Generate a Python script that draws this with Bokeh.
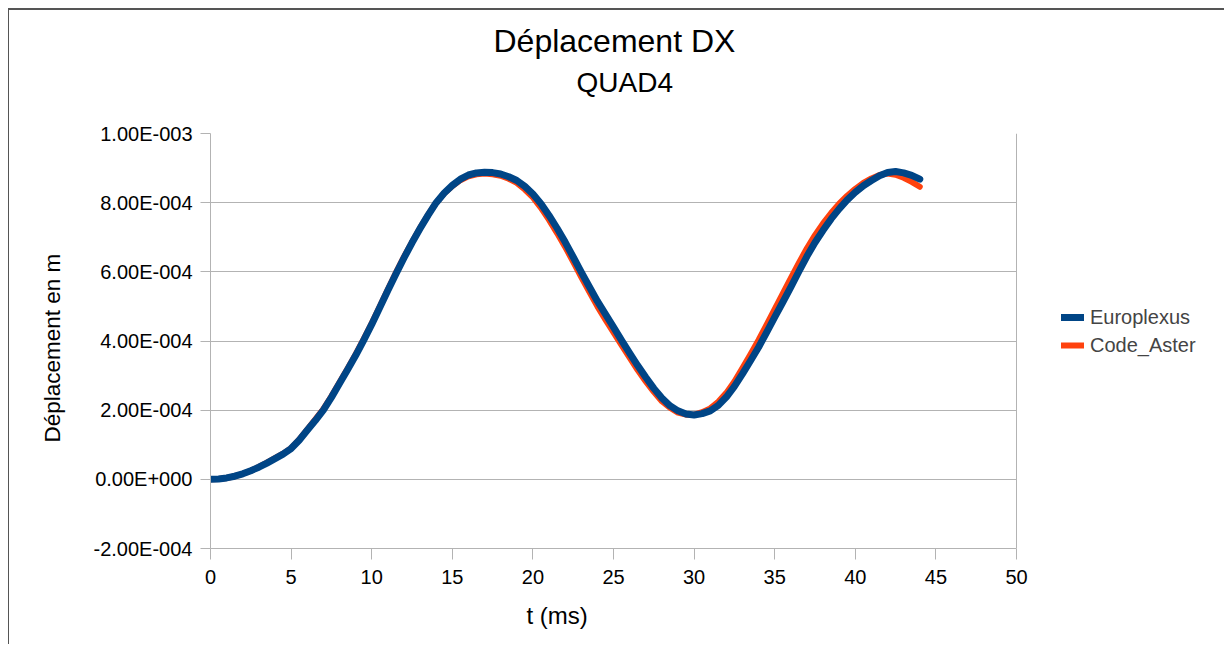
from bokeh.plotting import figure
from bokeh.models import FixedTicker, Legend, LegendItem, Title, Span, BoxAnnotation
from bokeh.embed import file_html
from bokeh.resources import INLINE

# ---- data ----
t_ms = [0, 0.5, 1, 1.5, 2, 2.5, 3, 3.5, 4, 4.5,
        5, 5.5, 6, 6.5, 7, 7.5, 8, 8.5, 9, 9.5,
        10, 10.5, 11, 11.5, 12, 12.5, 13, 13.5, 14, 14.5,
        15, 15.5, 16, 16.5, 17, 17.5, 18, 18.5, 19, 19.5,
        20, 20.5, 21, 21.5, 22, 22.5, 23, 23.5, 24, 24.5,
        25, 25.5, 26, 26.5, 27, 27.5, 28, 28.5, 29, 29.5,
        30, 30.5, 31, 31.5, 32, 32.5, 33, 33.5, 34, 34.5,
        35, 35.5, 36, 36.5, 37, 37.5, 38, 38.5, 39, 39.5,
        40, 40.5, 41, 41.5, 42, 42.5, 43, 43.5, 44]
europlexus_um = [0, 1, 4, 9, 16, 25, 35, 47, 60, 73,
                 89, 113, 142, 170, 200, 237, 277, 317, 358, 402,
                 448, 497, 546, 594, 640, 684, 725, 764, 800, 828,
                 850, 868, 880, 886, 888, 887, 883, 875, 864, 847,
                 825, 797, 763, 726, 686, 643, 599, 557, 515, 478,
                 440, 402, 365, 329, 295, 263, 235, 213, 198, 189,
                 186, 190, 198, 214, 238, 269, 305, 343, 382, 425,
                 469, 512, 556, 601, 645, 685, 720, 753, 782, 808,
                 830, 849, 864, 878, 887, 890, 886, 879, 868]
code_aster_um = [0, 1, 4, 9, 16, 25, 36, 48, 61, 74,
                 90, 115, 144, 173, 203, 240, 280, 320, 361, 405,
                 451, 500, 549, 597, 643, 686, 727, 765, 800, 827,
                 848, 865, 876, 882, 884, 882, 878, 869, 857, 838,
                 815, 785, 750, 712, 672, 629, 585, 542, 500, 462,
                 425, 388, 352, 316, 283, 253, 226, 207, 193, 187,
                 187, 194, 205, 224, 250, 283, 322, 362, 403, 447,
                 492, 537, 582, 626, 668, 706, 740, 770, 797, 820,
                 840, 857, 870, 880, 884, 881, 872, 860, 846]
europlexus = [v * 1e-6 for v in europlexus_um]
code_aster = [v * 1e-6 for v in code_aster_um]

x_min, x_max = 0, 50
x_ticks = [0, 5, 10, 15, 20, 25, 30, 35, 40, 45, 50]
y_ticks = [-0.0002, 0.0, 0.0002, 0.0004, 0.0006, 0.0008, 0.001]
y_tick_labels = ["-2.00E-004", "0.00E+000", "2.00E-004", "4.00E-004",
                 "6.00E-004", "8.00E-004", "1.00E-003"]

title_text = "Déplacement DX"
subtitle_text = "QUAD4"
x_label = "t (ms)"
y_label = "Déplacement en m"
series_names = ["Europlexus", "Code_Aster"]
colors = ["#004586", "#ff420e"]

GRID = "#b3b3b3"
FONT = "Liberation Sans"

# plot area is 806 px wide for 0..50 ms; the canvas area to its right holds the legend
W, H = 1216, 636
LEFT, TOP, BOTTOM = 201, 123, 98
px_per_ms = 806 / (x_max - x_min)
x_view_end = x_min + (W - LEFT) / px_per_ms

p = figure(width=W, height=H, x_range=(x_min, x_view_end), y_range=(-0.0002, 0.001),
           output_backend="svg", toolbar_location=None,
           min_border_left=LEFT, min_border_right=0,
           min_border_top=TOP, min_border_bottom=BOTTOM)
p.styles = {"margin-left": "8px", "margin-top": "8px",
            "border-top": "2px solid #555555", "border-left": "1px solid #555555"}

p.outline_line_color = None
p.xgrid.grid_line_color = None
p.ygrid.grid_line_color = GRID
p.ygrid.grid_line_width = 1
has_cross = "cross_bounds" in p.ygrid[0].properties()
if has_cross:
    p.ygrid[0].cross_bounds = (x_min, x_max)
else:
    p.add_layout(BoxAnnotation(left=x_max, fill_color="white", fill_alpha=1,
                               line_color=None, level="underlay"))

for ax in (p.xaxis, p.yaxis):
    ax.axis_line_color = GRID
    ax.major_tick_line_color = GRID
    ax.minor_tick_line_color = None
    ax.major_tick_in = 0
    ax.major_label_text_font = FONT
    ax.major_label_text_font_size = "20px"
    ax.major_label_text_color = "#000000"

p.xaxis.ticker = FixedTicker(ticks=x_ticks)
p.xaxis.bounds = (x_min, x_max)
p.xaxis.major_tick_out = 11
p.xaxis.major_label_standoff = 10
p.yaxis.ticker = FixedTicker(ticks=y_ticks)
p.yaxis.major_label_overrides = {v: s for v, s in zip(y_ticks, y_tick_labels)}
p.yaxis.major_tick_out = 10
p.yaxis.major_label_standoff = 8

# right edge of the plot area
p.add_layout(Span(location=x_max, dimension="height", line_color=GRID, line_width=1,
                  level="underlay"))

r_aster = p.line(t_ms, code_aster, line_color=colors[1], line_width=6,
                 line_join="round", line_cap="round")
r_euro = p.line(t_ms, europlexus, line_color=colors[0], line_width=7,
                line_join="round", line_cap="round")

legend = Legend(items=[LegendItem(label=series_names[0], renderers=[r_euro]),
                       LegendItem(label=series_names[1], renderers=[r_aster])],
                location=(851, 189), padding=0, spacing=0, margin=0,
                glyph_width=23, glyph_height=28, label_height=28,
                label_standoff=6, label_text_font=FONT,
                label_text_font_size="20px", border_line_color=None,
                background_fill_alpha=0)
p.add_layout(legend)

# titles stacked above the plot area (first added = closest to it)
p.add_layout(Title(text=" ", text_font_size="1px", standoff=31), "above")
p.add_layout(Title(text=subtitle_text, text_font=FONT, text_font_size="28px",
                   text_font_style="normal", align="left", offset=366, standoff=4,
                   text_color="#000000"), "above")
p.add_layout(Title(text=title_text, text_font=FONT, text_font_size="32px",
                   text_font_style="normal", align="left", offset=283, standoff=8,
                   text_color="#000000"), "above")

# axis titles
p.add_layout(Title(text=x_label, text_font=FONT, text_font_size="24px",
                   text_font_style="normal", align="left", offset=316,
                   standoff=26, text_color="#000000"), "below")
p.add_layout(Title(text=y_label, text_font=FONT, text_font_size="22.5px",
                   text_font_style="normal", align="left", offset=106,
                   standoff=52, text_color="#000000"), "left")

open("out.html", "w").write(file_html(p, INLINE))
